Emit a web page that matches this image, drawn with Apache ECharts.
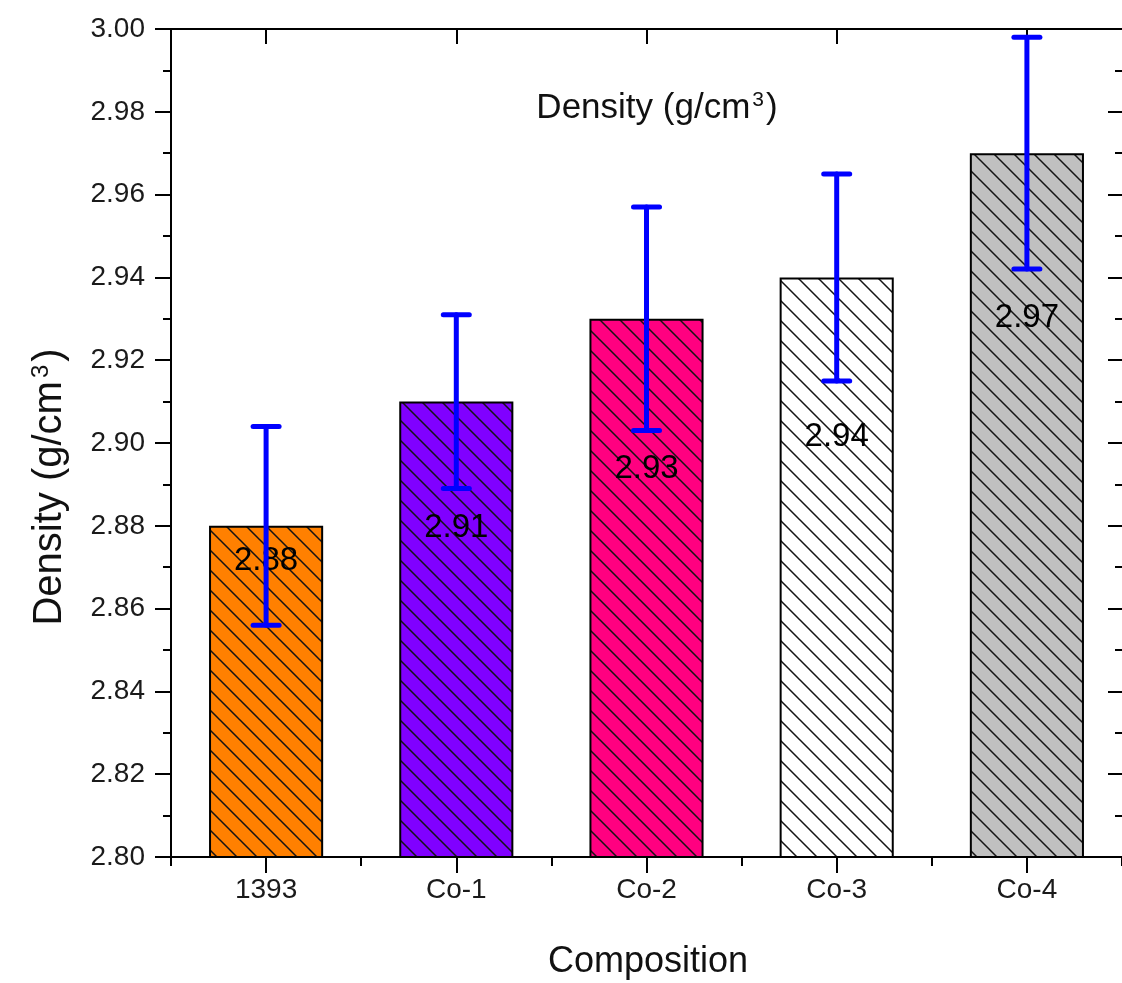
<!DOCTYPE html>
<html>
<head>
<meta charset="utf-8">
<script src="https://cdn.jsdelivr.net/npm/echarts@6/dist/echarts.min.js"></script>
<style>
html,body{margin:0;padding:0;background:#fff;}
#chart{width:1122px;height:983px;}
</style>
</head>
<body>
<div id="chart"></div>
<script>
// ---- data ----
const categories = ['1393', 'Co-1', 'Co-2', 'Co-3', 'Co-4'];
const density = [2.88, 2.91, 2.93, 2.94, 2.97];
const errLow = [2.856, 2.889, 2.903, 2.915, 2.942];
const errHigh = [2.904, 2.931, 2.957, 2.965, 2.998];
const valueLabels = ['2.88', '2.91', '2.93', '2.94', '2.97'];

// ---- styles ----
const barColors = ['#FF8000', '#8000FF', '#FF0080', '#FFFFFF', '#C0C0C0'];
const labelOffsets = [35, 126, 150, 160, 165];
const FONT = '"Liberation Sans", Arial, sans-serif';

function hatch(fill) {
  const c = document.createElement('canvas');
  c.width = 20; c.height = 20;
  const g = c.getContext('2d');
  g.fillStyle = fill;
  g.fillRect(0, 0, 20, 20);
  g.strokeStyle = '#141414';
  g.lineWidth = 1.5;
  g.beginPath();
  g.moveTo(-2, -2); g.lineTo(22, 22);
  g.moveTo(-22, -2); g.lineTo(2, 22);
  g.moveTo(-2, -22); g.lineTo(22, 2);
  g.stroke();
  return c;
}

const chart = echarts.init(document.getElementById('chart'), null, {renderer: 'canvas'});

const barData = density.map((v, i) => ({
  value: v,
  itemStyle: {
    color: {image: hatch(barColors[i]), repeat: 'repeat'},
    borderColor: '#000', borderWidth: 2
  },
  label: {
    show: true,
    position: ['50%', labelOffsets[i]],
    align: 'center', verticalAlign: 'middle',
    formatter: valueLabels[i],
    fontSize: 33, color: '#000', fontFamily: FONT
  }
}));

const errData = categories.map((c, i) => [i, errLow[i], errHigh[i]]);

const option = {
  backgroundColor: '#fff',
  animation: false,
  grid: {left: 171, top: 29, width: 954, height: 828, containLabel: false},
  xAxis: [
    {
      type: 'category', data: categories, position: 'bottom',
      axisLine: {show: true, lineStyle: {color: '#000', width: 2}},
      axisTick: {show: true, alignWithLabel: true, length: 16, lineStyle: {color: '#000', width: 2}},
      axisLabel: {fontSize: 28, color: '#1a1a1a', fontFamily: FONT, margin: 19},
      splitLine: {show: false}
    },
    {
      type: 'category', data: categories, position: 'bottom',
      axisLine: {show: false},
      axisTick: {show: true, length: 9, lineStyle: {color: '#000', width: 2}},
      axisLabel: {show: false},
      splitLine: {show: false}
    },
    {
      type: 'category', data: categories, position: 'top',
      axisLine: {show: true, lineStyle: {color: '#000', width: 2}},
      axisTick: {show: true, inside: true, alignWithLabel: true, length: 15, lineStyle: {color: '#000', width: 2}},
      axisLabel: {show: false},
      splitLine: {show: false}
    }
  ],
  yAxis: [
    {
      type: 'value', min: 2.80, max: 3.00, interval: 0.02, position: 'left',
      axisLine: {show: true, lineStyle: {color: '#000', width: 2}},
      axisTick: {show: true, length: 16, lineStyle: {color: '#000', width: 2}},
      minorTick: {show: true, splitNumber: 2, length: 8, lineStyle: {color: '#000', width: 2}},
      axisLabel: {fontSize: 28, color: '#1a1a1a', fontFamily: FONT, margin: 26,
        formatter: v => v.toFixed(2)},
      splitLine: {show: false}
    },
    {
      type: 'value', min: 2.80, max: 3.00, interval: 0.02, position: 'right',
      axisLine: {show: false},
      axisTick: {show: true, inside: true, length: 14, lineStyle: {color: '#000', width: 2}},
      minorTick: {show: true, splitNumber: 2, length: 7, lineStyle: {color: '#000', width: 2}},
      axisLabel: {show: false},
      splitLine: {show: false}
    }
  ],
  series: [
    {
      type: 'bar', xAxisIndex: 0, yAxisIndex: 0,
      barWidth: '60%',
      data: barData,
      z: 2
    },
    {
      type: 'custom', xAxisIndex: 0, yAxisIndex: 0, z: 10,
      data: errData,
      renderItem: function (params, api) {
        const x = api.value(0);
        const top = api.coord([x, api.value(2)]);
        const bot = api.coord([x, api.value(1)]);
        const hw = 13;
        const st = {stroke: '#0000FF', lineWidth: 5, lineCap: 'round'};
        return {
          type: 'group',
          children: [
            {type: 'line', shape: {x1: top[0], y1: top[1], x2: bot[0], y2: bot[1]}, style: st},
            {type: 'line', shape: {x1: top[0] - hw, y1: top[1], x2: top[0] + hw, y2: top[1]}, style: st},
            {type: 'line', shape: {x1: bot[0] - hw, y1: bot[1], x2: bot[0] + hw, y2: bot[1]}, style: st}
          ]
        };
      }
    }
  ],
  graphic: [
    {
      type: 'text', x: 657, y: 108, z: 20,
      style: {
        text: '{a|Density (g/cm}{s|3}{a|)}',
        align: 'center', verticalAlign: 'middle',
        rich: {
          a: {fontSize: 35, fontFamily: FONT, fill: '#111'},
          s: {fontSize: 21, fontFamily: FONT, fill: '#111', verticalAlign: 'top', padding: [0, 2, 16, 2]}
        }
      }
    },
    {
      type: 'text', x: 50, y: 487, rotation: Math.PI / 2, z: 20,
      style: {
        text: '{a|Density (g/cm}{s|3}{a|)}',
        align: 'center', verticalAlign: 'middle',
        rich: {
          a: {fontSize: 40, fontFamily: FONT, fill: '#111'},
          s: {fontSize: 24, fontFamily: FONT, fill: '#111', verticalAlign: 'top', padding: [0, 3, 18, 3]}
        }
      }
    },
    {
      type: 'text', x: 648, y: 962, z: 20,
      style: {
        text: 'Composition', align: 'center', verticalAlign: 'middle',
        fontSize: 36, fontFamily: FONT, fill: '#111'
      }
    }
  ]
};
chart.setOption(option);
</script>
</body>
</html>
